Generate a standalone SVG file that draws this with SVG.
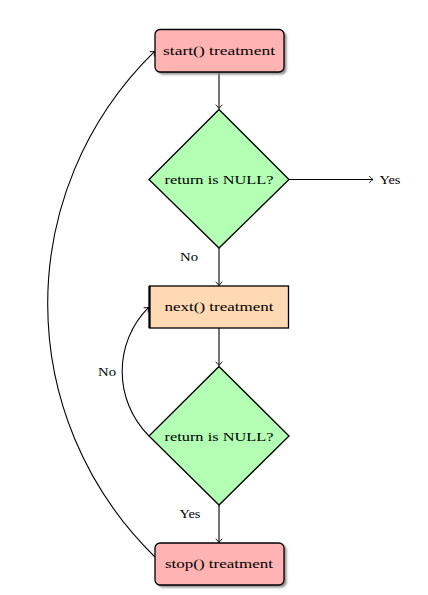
<svg xmlns="http://www.w3.org/2000/svg" width="428" height="595" viewBox="0 0 428 595">
<defs>
  <marker id="arr" viewBox="-5 -4 6 8" markerWidth="6" markerHeight="8" refX="0" refY="0" orient="auto" markerUnits="userSpaceOnUse">
    <path d="M -3.5 -3 Q -1 -0.6 0 0 Q -1 0.6 -3.5 3" fill="none" stroke="#000" stroke-width="0.9" stroke-linecap="round"/>
  </marker>
  <filter id="sh" x="-20%" y="-20%" width="140%" height="140%">
    <feGaussianBlur stdDeviation="0.8"/>
  </filter>
</defs>
<style>
  text { font-family: "Liberation Serif", "Times New Roman", serif; font-size: 13.3px; fill: #000; }
  .term { fill: #ffb3b3; stroke: #000; stroke-width: 1.3; }
  .dec { fill: #b3ffb3; stroke: #000; stroke-width: 1.3; }
  .proc { fill: #ffd9b3; stroke: #000; stroke-width: 1.3; }
  .shadow { fill: #8c8c8c; filter: url(#sh); }
  .conn { fill: none; stroke: #000; stroke-width: 1.1; marker-end: url(#arr); }
</style>
<rect width="428" height="595" fill="#fff"/>

<g id="connectors">
  <line class="conn" x1="219" y1="72" x2="219" y2="108.5"/>
  <line class="conn" x1="289" y1="179.5" x2="373" y2="179.5"/>
  <line class="conn" x1="219" y1="248" x2="219" y2="285.5"/>
  <line class="conn" x1="219" y1="328" x2="219" y2="365.5"/>
  <line class="conn" x1="219" y1="505" x2="219" y2="542.5"/>
  <path class="conn" d="M 149 436 C 113.3 400.3 113.3 342.7 148.6 307.4"/>
  <path class="conn" d="M 155 557 C 12 417 12 191 154.6 51.4"/>
  <text x="390" y="184" text-anchor="middle" textLength="21" lengthAdjust="spacingAndGlyphs">Yes</text>
  <text x="189" y="261" text-anchor="middle" textLength="18" lengthAdjust="spacingAndGlyphs">No</text>
  <text x="107" y="376" text-anchor="middle" textLength="18" lengthAdjust="spacingAndGlyphs">No</text>
  <text x="190" y="518" text-anchor="middle" textLength="21" lengthAdjust="spacingAndGlyphs">Yes</text>
</g>

<g id="start">
  <rect class="shadow" x="157.5" y="31.5" width="129" height="43" rx="5"/>
  <rect class="term" x="155" y="29.5" width="129" height="42.5" rx="5"/>
  <text x="219" y="54.5" text-anchor="middle" textLength="112" lengthAdjust="spacingAndGlyphs">start() treatment</text>
</g>

<g id="decision1">
  <polygon class="dec" points="219,109.5 289,179.5 219,248 149,179.5"/>
  <text x="219" y="184" text-anchor="middle" textLength="109" lengthAdjust="spacingAndGlyphs">return is NULL?</text>
</g>

<g id="next">
  <rect class="proc" x="149.5" y="286" width="139" height="42"/>
  <line x1="149.5" y1="286" x2="149.5" y2="328" stroke="#000" stroke-width="2.2"/>
  <text x="219" y="311" text-anchor="middle" textLength="109" lengthAdjust="spacingAndGlyphs">next() treatment</text>
</g>

<g id="decision2">
  <polygon class="dec" points="219,366.5 289,436 219,505 149,436"/>
  <text x="219" y="440.5" text-anchor="middle" textLength="109" lengthAdjust="spacingAndGlyphs">return is NULL?</text>
</g>

<g id="stop">
  <rect class="shadow" x="157.5" y="545" width="129" height="42.5" rx="5"/>
  <rect class="term" x="155" y="543" width="129" height="42" rx="5"/>
  <text x="219" y="568" text-anchor="middle" textLength="108" lengthAdjust="spacingAndGlyphs">stop() treatment</text>
</g>
</svg>
